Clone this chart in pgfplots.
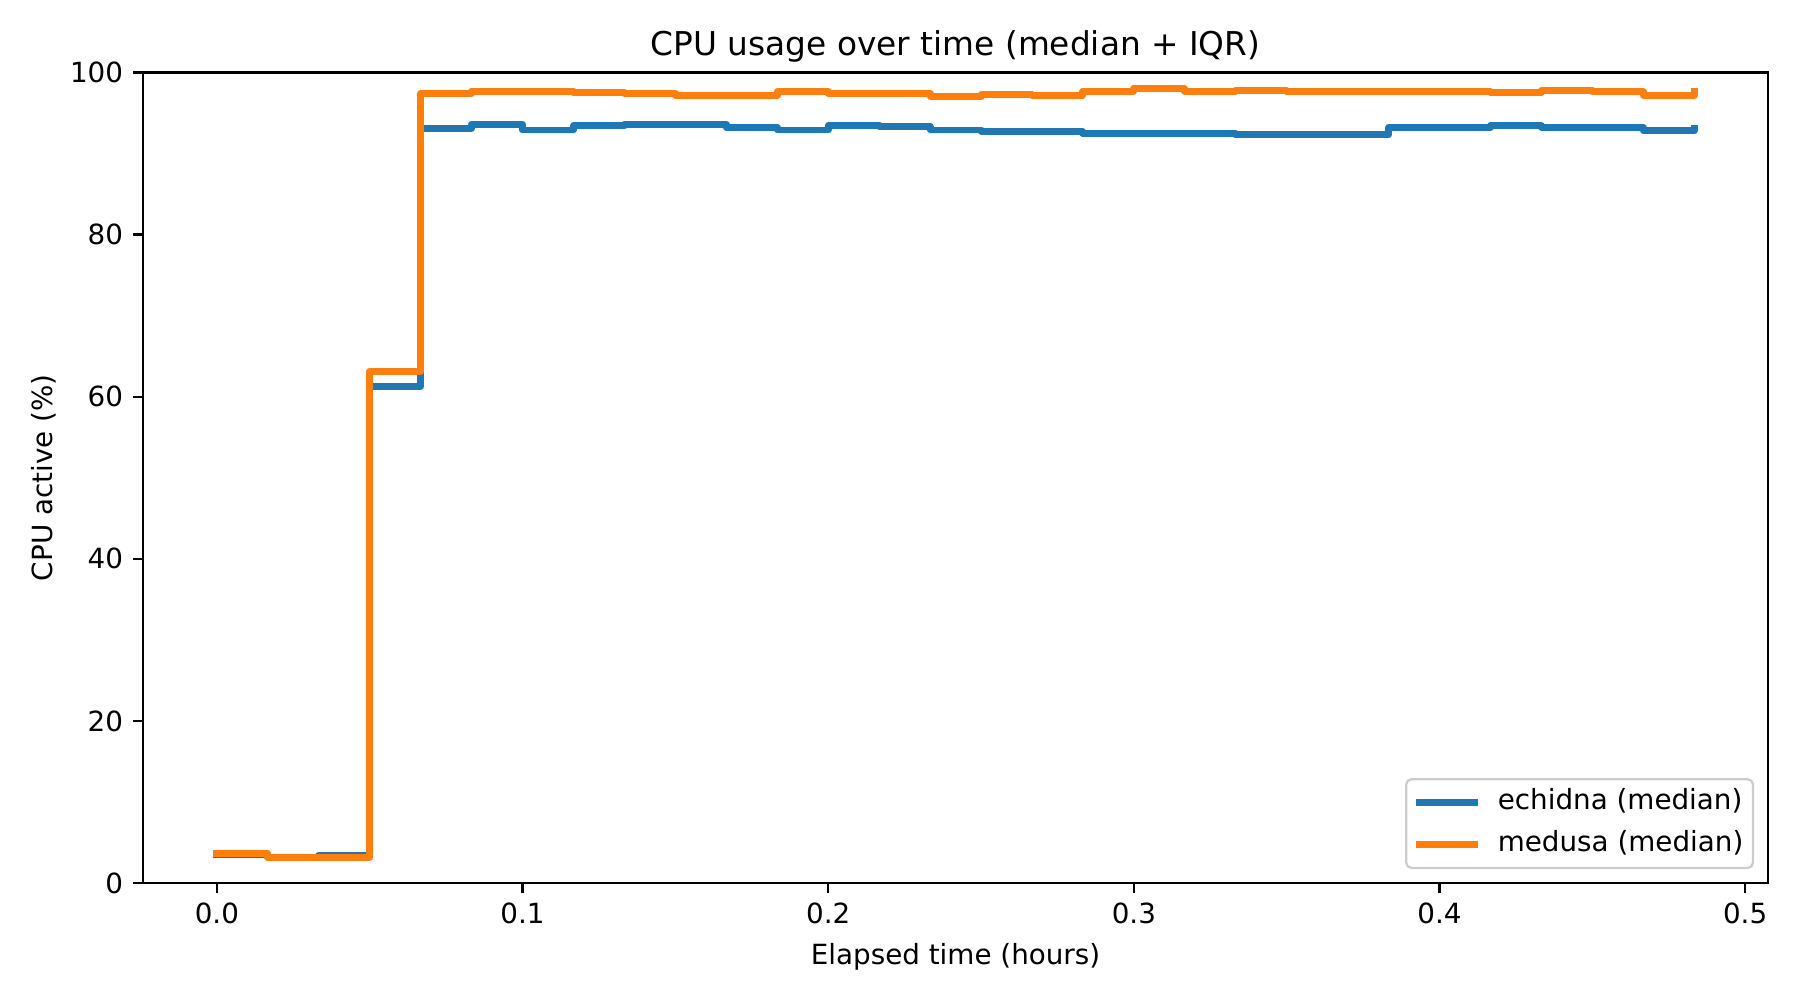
\documentclass[border=0pt]{standalone}
\usepackage{fontspec}
\setmainfont{DejaVu Sans}
\usepackage{pgfplots}
\usepackage{pgfplotstable}
\pgfplotsset{compat=1.18}
\definecolor{tabblue}{HTML}{1F77B4}
\definecolor{taborange}{HTML}{FF7F0E}
\pgfplotstableread{
t        echidna  medusa
0        3.5      3.7
0.016667 3.2      3.2
0.033333 3.4      3.2
0.05     61.3     63.1
0.066667 93.1     97.4
0.083333 93.6     97.7
0.1      92.9     97.7
0.116667 93.4     97.5
0.133333 93.6     97.4
0.15     93.6     97.2
0.166667 93.2     97.2
0.183333 92.9     97.6
0.2      93.5     97.4
0.216667 93.3     97.4
0.233333 92.9     97.0
0.25     92.75    97.3
0.266667 92.75    97.2
0.283333 92.5     97.7
0.3      92.5     98.0
0.316667 92.5     97.7
0.333333 92.3     97.8
0.35     92.3     97.7
0.366667 92.3     97.6
0.383333 93.2     97.6
0.4      93.2     97.6
0.416667 93.4     97.5
0.433333 93.2     97.8
0.45     93.2     97.6
0.466667 92.8     97.2
0.483333 93.1     97.7
}\datatable
\begin{document}
\begin{tikzpicture}
\begin{axis}[
  scale only axis,
  width=585pt, height=291.8pt,
  xmin=-0.024167, xmax=0.5075,
  ymin=0, ymax=100,
  xtick={0,0.1,0.2,0.3,0.4,0.5},
  ytick={0,20,40,60,80,100},
  /pgf/number format/assume math mode=true,
  tick align=outside,
  xtick pos=bottom, ytick pos=left,
  major tick length=3.5pt,
  every tick/.style={black, line width=0.8pt},
  axis line style={line width=0.8pt},
  tick label style={font=\fontsize{10}{12}\selectfont, inner sep=0pt},
  xticklabel style={anchor=base, yshift=-11pt, /pgf/number format/fixed, /pgf/number format/fixed zerofill, /pgf/number format/precision=1},
  yticklabel style={anchor=base east, xshift=-3.5pt, yshift=-3.65pt},
  every axis title shift=0pt,
  title={CPU usage over time (median + IQR)},
  title style={font=\fontsize{11.8}{14}\selectfont, anchor=base, at={(axis description cs:0.5,1)}, yshift=6.1pt, inner sep=0pt},
  xlabel={Elapsed time (hours)},
  xlabel style={font=\fontsize{10}{12}\selectfont, anchor=base, at={(axis description cs:0.5,0)}, yshift=-29.3pt, inner sep=0pt},
  ylabel={CPU active (\%)},
  ylabel style={font=\fontsize{10}{12}\selectfont, rotate=0, anchor=base, at={(axis description cs:0,0.5)}, yshift=32.5pt, inner sep=0pt},
  legend cell align=left,
  legend image code/.code={\draw[#1, line cap=rect] (0pt,0pt) -- (20pt,0pt);},
  legend style={at={(axis description cs:1,0)}, anchor=south east, xshift=-5pt, yshift=5pt,
    draw=black!20, line width=0.8pt, rounded corners=2pt, fill=white, fill opacity=0.8, text opacity=1,
    font=\fontsize{10}{12}\selectfont, inner xsep=3.5pt, inner ysep=3.5pt, row sep=5pt, column sep=7pt,
    nodes={inner sep=0pt, text height=7.6pt, text depth=2.4pt}},
  clip=true,
]
\coordinate (SW) at (rel axis cs:0,0);
\coordinate (NE) at (rel axis cs:1,1);
\addplot[const plot, color=tabblue, line width=2.5pt, line cap=rect, line join=round] table[x=t, y=echidna] {\datatable};
\addlegendentry{echidna (median)}
\addplot[const plot, color=taborange, line width=2.5pt, line cap=rect, line join=round] table[x=t, y=medusa] {\datatable};
\addlegendentry{medusa (median)}
\end{axis}
\pgfresetboundingbox
\path[use as bounding box] ([shift={(-51.5pt,-42.1pt)}]SW) rectangle ([shift={(11.5pt,26.1pt)}]NE);
\end{tikzpicture}
\end{document}
